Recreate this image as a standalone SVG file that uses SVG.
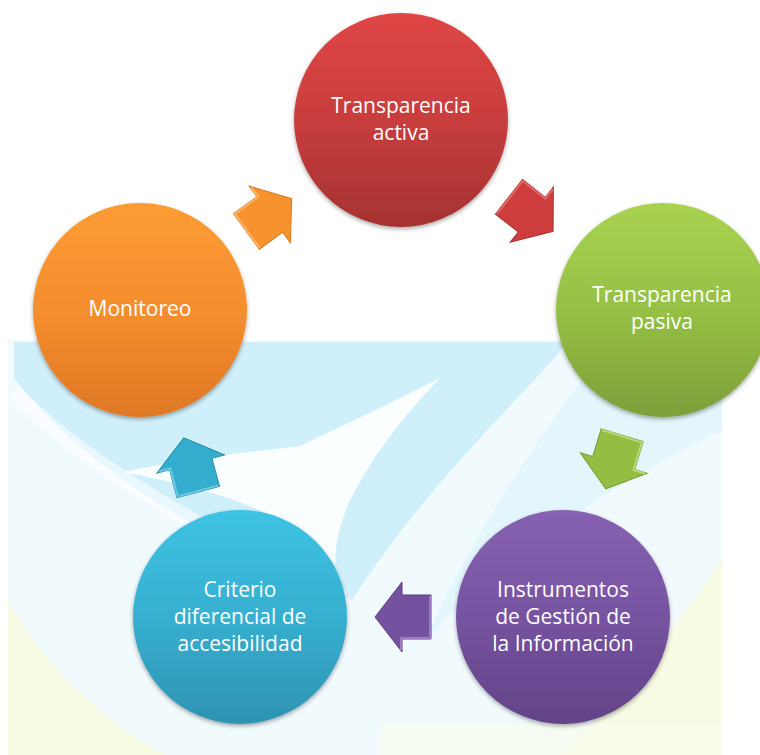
<svg xmlns="http://www.w3.org/2000/svg" width="760" height="755" viewBox="0 0 760 755">
  <defs>
    <style>
      .lbl { font-family: "Open Sans", "Liberation Sans", sans-serif; font-size: 21px; fill: #ffffff; text-anchor: middle; }
      .arrow { stroke-width: 1; stroke-linejoin: miter; }
      .hl { fill: none; stroke-width: 2; stroke-opacity: 0.75; }
    </style>
    <filter id="shadow" x="-20%" y="-20%" width="140%" height="140%">
      <feDropShadow dx="0" dy="2" stdDeviation="2" flood-color="#000000" flood-opacity="0.35"/>
    </filter>
    <linearGradient id="gRed" x1="0" y1="0" x2="0" y2="1">
      <stop offset="0" stop-color="#E04646"/>
      <stop offset="0.5" stop-color="#C83D3D"/>
      <stop offset="1" stop-color="#A53232"/>
    </linearGradient>
    <linearGradient id="gGreen" x1="0" y1="0" x2="0" y2="1">
      <stop offset="0" stop-color="#A8D250"/>
      <stop offset="0.5" stop-color="#96C045"/>
      <stop offset="1" stop-color="#7CA03A"/>
    </linearGradient>
    <linearGradient id="gPurple" x1="0" y1="0" x2="0" y2="1">
      <stop offset="0" stop-color="#8762B2"/>
      <stop offset="0.5" stop-color="#7653A0"/>
      <stop offset="1" stop-color="#634388"/>
    </linearGradient>
    <linearGradient id="gCyan" x1="0" y1="0" x2="0" y2="1">
      <stop offset="0" stop-color="#3DC3E3"/>
      <stop offset="0.5" stop-color="#37AFD0"/>
      <stop offset="1" stop-color="#2E93B1"/>
    </linearGradient>
    <linearGradient id="gOrange" x1="0" y1="0" x2="0" y2="1">
      <stop offset="0" stop-color="#FC9C33"/>
      <stop offset="0.5" stop-color="#F48E2E"/>
      <stop offset="1" stop-color="#DF7824"/>
    </linearGradient>
  </defs>

  <!-- background watermark -->
  <g id="watermark">
    <rect x="8" y="340" width="714" height="415" fill="#F1FBFE"/>
    <path d="M 14 342 L 568 342 C 520 400 430 480 352 600 C 250 560 90 480 14 378 Z" fill="#CFEFFA"/>
    <path d="M 14 392 C 90 470 220 540 345 598" fill="none" stroke="#FFFFFF" stroke-width="16" stroke-opacity="0.55"/>
    <path d="M 612 342 L 722 342 L 722 430 C 640 470 520 540 425 640 C 470 540 540 430 612 342 Z" fill="#E2F6FC"/>
    <path d="M 122 472 C 190 458 250 452 300 446 C 355 420 405 396 440 378 C 400 420 368 462 348 505 C 338 530 334 550 336 565 C 300 525 250 495 122 472 Z" fill="#FFFFFF" fill-opacity="0.9"/>
    <path d="M 8 600 C 40 660 100 720 165 755 L 8 755 Z" fill="#F8FBE3"/>
    <path d="M 722 560 L 722 755 L 560 755 C 620 700 680 620 722 560 Z" fill="#F7FBE3"/>
    <path d="M 380 724 L 722 724 L 722 755 L 380 755 Z" fill="#F9FCEC" fill-opacity="0.7"/>
  </g>

  <!-- connectors -->
  <g id="connectors">
    <g transform="translate(269,215) rotate(-36)">
      <polygon class="arrow" points="-28,-22 1,-22 1,-35 28,0 1,35 1,22 -28,22" fill="#F6932E" stroke="#D9781F"/>
      <polyline class="hl" points="-27,21 -27,-21 2,-21 2,-33" stroke="#FFC27A"/>
    </g>
    <g transform="translate(531,214) rotate(38)">
      <polygon class="arrow" points="-28,-22 1,-22 1,-35 28,0 1,35 1,22 -28,22" fill="#CD3D3D" stroke="#A72F2F"/>
      <polyline class="hl" points="-27,21 -27,-21 2,-21 2,-33" stroke="#EE7A7A"/>
    </g>
    <g transform="translate(614,462) rotate(107)">
      <polygon class="arrow" points="-28,-22 1,-22 1,-35 28,0 1,35 1,22 -28,22" fill="#93BE44" stroke="#7A9F36"/>
      <polyline class="hl" points="-27,21 -27,-21 2,-21 2,-33" stroke="#C6E68A"/>
    </g>
    <g transform="translate(403,617) rotate(180)">
      <polygon class="arrow" points="-28,-22 1,-22 1,-35 28,0 1,35 1,22 -28,22" fill="#7452A0" stroke="#5D3F85"/>
      <polyline class="hl" points="-27,21 -27,-21 2,-21 2,-33" stroke="#A98BD0"/>
    </g>
    <g transform="translate(191,465) rotate(-105)">
      <polygon class="arrow" points="-28,-22 1,-22 1,-35 28,0 1,35 1,22 -28,22" fill="#34ADCE" stroke="#2A8DAA"/>
      <polyline class="hl" points="-27,21 -27,-21 2,-21 2,-33" stroke="#7FD6EE"/>
    </g>
  </g>

  <!-- nodes -->
  <g id="node-transparencia-activa">
    <circle cx="401" cy="120" r="107" fill="url(#gRed)" filter="url(#shadow)"/>
    <text class="lbl" x="401" y="113">Transparencia</text>
    <text class="lbl" x="401" y="140">activa</text>
  </g>
  <g id="node-transparencia-pasiva">
    <circle cx="663" cy="310" r="107" fill="url(#gGreen)" filter="url(#shadow)"/>
    <text class="lbl" x="662" y="302">Transparencia</text>
    <text class="lbl" x="662" y="329">pasiva</text>
  </g>
  <g id="node-instrumentos">
    <circle cx="563" cy="617" r="107" fill="url(#gPurple)" filter="url(#shadow)"/>
    <text class="lbl" x="563" y="597">Instrumentos</text>
    <text class="lbl" x="563" y="624">de Gestión de</text>
    <text class="lbl" x="563" y="651">la Información</text>
  </g>
  <g id="node-criterio">
    <circle cx="240" cy="617" r="107" fill="url(#gCyan)" filter="url(#shadow)"/>
    <text class="lbl" x="240" y="597">Criterio</text>
    <text class="lbl" x="240" y="624">diferencial de</text>
    <text class="lbl" x="240" y="651">accesibilidad</text>
  </g>
  <g id="node-monitoreo">
    <circle cx="140" cy="310" r="107" fill="url(#gOrange)" filter="url(#shadow)"/>
    <text class="lbl" x="140" y="316">Monitoreo</text>
  </g>
</svg>
